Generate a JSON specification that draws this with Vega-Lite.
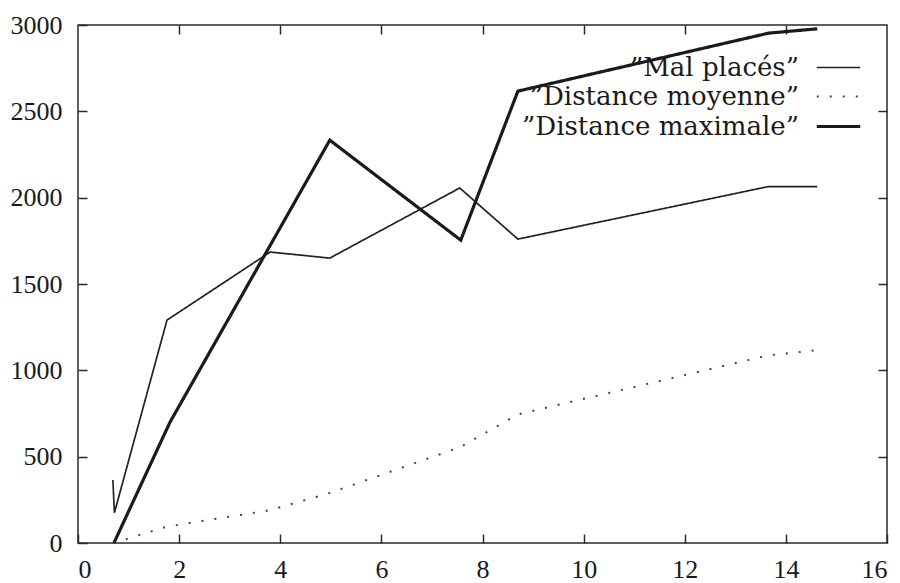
{
  "$schema": "https://vega.github.io/schema/vega-lite/v6.json",
  "width": 809,
  "height": 518,
  "autosize": {"type": "none"},
  "padding": {"left": 78, "top": 25, "right": 13, "bottom": 40},
  "background": "white",
  "config": {
    "view": {"stroke": "#2a2a2a", "strokeWidth": 1.5},
    "font": "Liberation Serif",
    "axis": {"grid": false, "domain": false, "tickColor": "#2a2a2a", "tickWidth": 1.5, "labelColor": "#1a1a1a", "labelFont": "Liberation Serif", "labelFontSize": 26, "titleFontSize": 1}
  },
  "data": {
    "values": [
      {"serie": "”Mal placés”", "i": 1, "x": 0.69, "y": 365},
      {"serie": "”Mal placés”", "i": 2, "x": 0.72, "y": 175},
      {"serie": "”Mal placés”", "i": 3, "x": 1.76, "y": 1291},
      {"serie": "”Mal placés”", "i": 4, "x": 3.8, "y": 1685},
      {"serie": "”Mal placés”", "i": 5, "x": 4.98, "y": 1650},
      {"serie": "”Mal placés”", "i": 6, "x": 7.55, "y": 2056},
      {"serie": "”Mal placés”", "i": 7, "x": 8.7, "y": 1760},
      {"serie": "”Mal placés”", "i": 8, "x": 13.65, "y": 2064},
      {"serie": "”Mal placés”", "i": 9, "x": 14.62, "y": 2064},
      {"serie": "”Distance moyenne”", "i": 1, "x": 0.7, "y": 0},
      {"serie": "”Distance moyenne”", "i": 2, "x": 1.76, "y": 95},
      {"serie": "”Distance moyenne”", "i": 3, "x": 3.8, "y": 190},
      {"serie": "”Distance moyenne”", "i": 4, "x": 4.98, "y": 290},
      {"serie": "”Distance moyenne”", "i": 5, "x": 7.56, "y": 555},
      {"serie": "”Distance moyenne”", "i": 6, "x": 8.7, "y": 745},
      {"serie": "”Distance moyenne”", "i": 7, "x": 13.66, "y": 1087},
      {"serie": "”Distance moyenne”", "i": 8, "x": 14.62, "y": 1117},
      {"serie": "”Distance maximale”", "i": 1, "x": 0.71, "y": 0},
      {"serie": "”Distance maximale”", "i": 2, "x": 1.82, "y": 700},
      {"serie": "”Distance maximale”", "i": 3, "x": 4.98, "y": 2333},
      {"serie": "”Distance maximale”", "i": 4, "x": 7.57, "y": 1754},
      {"serie": "”Distance maximale”", "i": 5, "x": 8.7, "y": 2617},
      {"serie": "”Distance maximale”", "i": 6, "x": 13.66, "y": 2953},
      {"serie": "”Distance maximale”", "i": 7, "x": 14.62, "y": 2978}
    ]
  },
  "layer": [
    {
      "mark": {"type": "line", "strokeJoin": "miter", "strokeCap": "butt"},
      "encoding": {
        "x": {"field": "x", "type": "quantitative", "title": null,
              "scale": {"domain": [0, 16], "nice": false, "zero": false},
              "axis": {"values": [0, 2, 4, 6, 8, 10, 12, 14, 16], "tickSize": -9, "labelPadding": 22, "format": "d"}},
        "y": {"field": "y", "type": "quantitative", "title": null,
              "scale": {"domain": [0, 3000], "nice": false},
              "axis": {"values": [0, 500, 1000, 1500, 2000, 2500, 3000], "tickSize": -9, "labelPadding": 25, "format": "d"}},
        "order": {"field": "i", "type": "quantitative"},
        "color": {"field": "serie", "type": "nominal",
                  "scale": {"domain": ["”Mal placés”", "”Distance moyenne”", "”Distance maximale”"], "range": ["#222222", "#444444", "#1a1a1a"]},
                  "legend": {"title": null, "orient": "none", "legendX": 744, "legendY": 27, "labelAlign": "right", "labelOffset": -56, "labelFontSize": 26, "labelFont": "DejaVu Serif", "labelColor": "#1a1a1a", "symbolType": "M-1.5,0H1.5", "symbolSize": 841, "rowPadding": 0, "labelLimit": 400}},
        "strokeDash": {"field": "serie", "type": "nominal",
                       "scale": {"domain": ["”Mal placés”", "”Distance moyenne”", "”Distance maximale”"], "range": [[1, 0], [2, 11], [1, 0]]}},
        "strokeWidth": {"field": "serie", "type": "nominal",
                        "scale": {"type": "ordinal", "domain": ["”Mal placés”", "”Distance moyenne”", "”Distance maximale”"], "range": [1.7, 2, 3.2]}}
      }
    },
    {
      "mark": {"type": "line", "opacity": 0},
      "encoding": {
        "x": {"field": "x", "type": "quantitative", "title": null,
              "axis": {"orient": "top", "values": [2, 4, 6, 8, 10, 12, 14], "tickSize": -9, "labels": false}},
        "y": {"field": "y", "type": "quantitative", "title": null,
              "axis": {"orient": "right", "values": [500, 1000, 1500, 2000, 2500], "tickSize": -9, "labels": false}},
        "order": {"field": "i", "type": "quantitative"}
      }
    }
  ],
  "resolve": {"axis": {"x": "independent", "y": "independent"}}
}
